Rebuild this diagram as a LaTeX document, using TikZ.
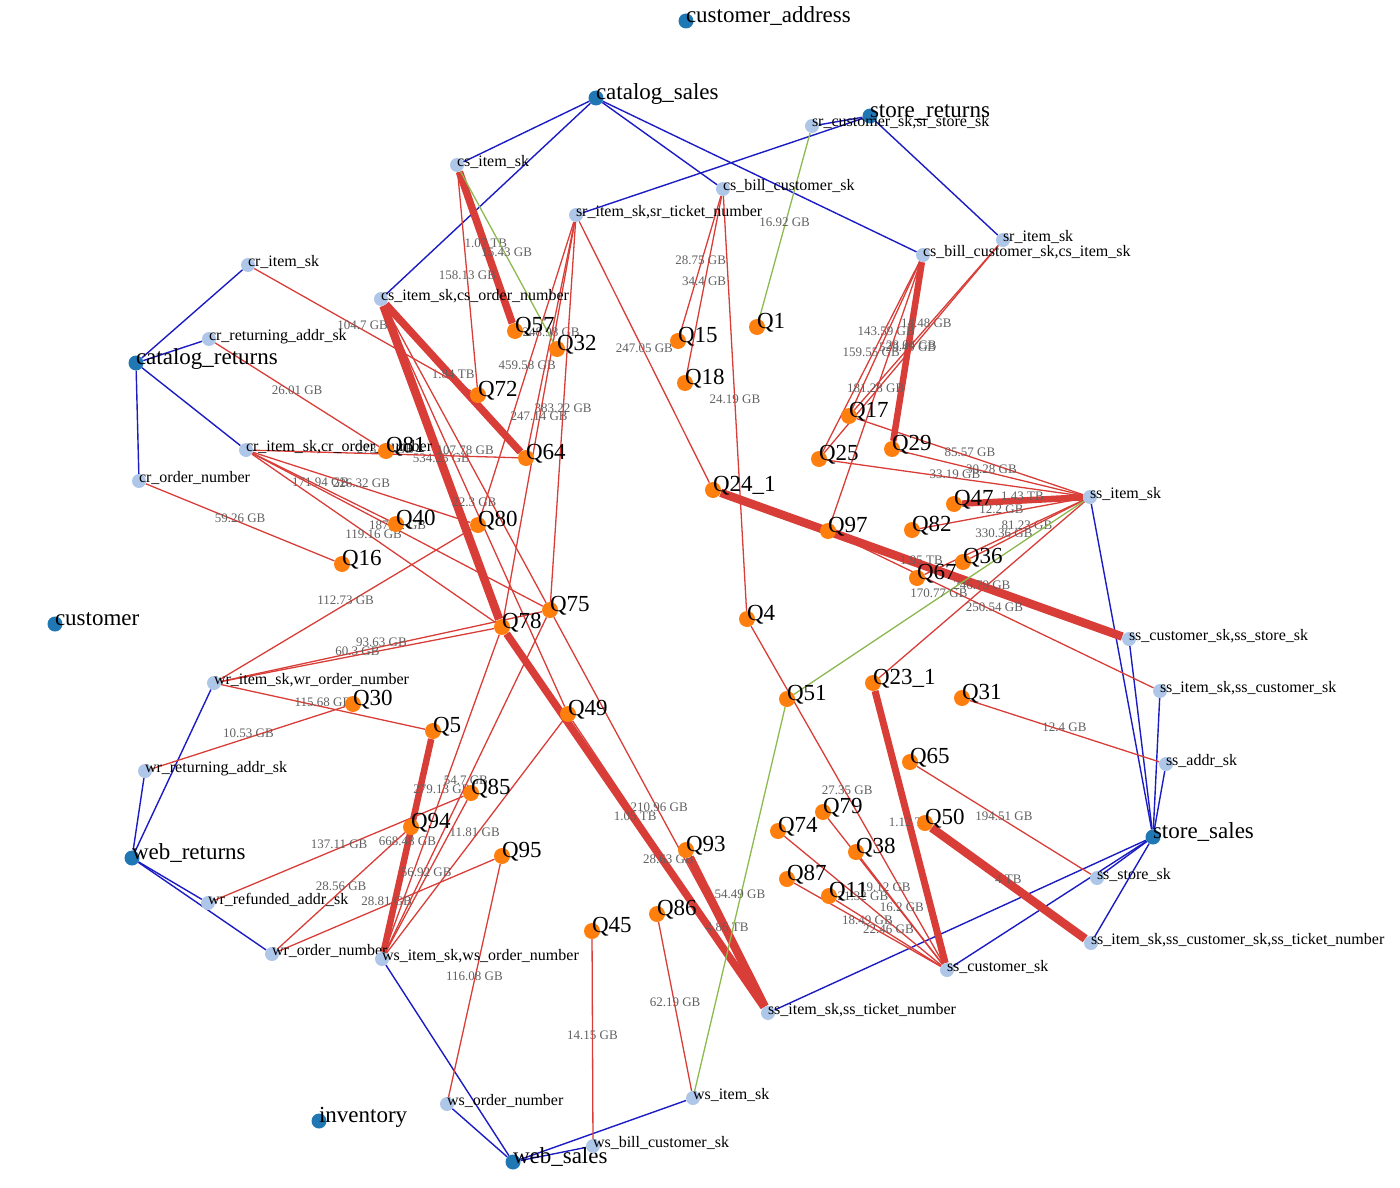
\documentclass[tikz,border=0pt]{standalone}
\usepackage{fontspec}
\setmainfont{Liberation Serif}
\usepackage{xcolor}
\usetikzlibrary{backgrounds}

\definecolor{tabblue}{HTML}{1F77B4}
\definecolor{attrblue}{HTML}{AEC7E8}
\definecolor{qorange}{HTML}{FF7F0E}
\definecolor{relblue}{HTML}{1C1CC4}
\definecolor{scanred}{HTML}{D93D38}
\definecolor{hintgreen}{HTML}{8DBA4E}

\begin{document}
\begin{tikzpicture}[
  x=1pt, y=-1pt,
  tbl/.style={circle, fill=tabblue, minimum size=15pt, inner sep=0pt},
  attr/.style={circle, fill=attrblue, minimum size=14pt, inner sep=0pt},
  qry/.style={circle, fill=qorange, minimum size=16pt, inner sep=0pt},
  % label text starts at the node centre, baseline near the centre
  tlab/.style={inner sep=0pt, yshift=3pt, font=\fontsize{23}{24}\selectfont,
    execute at begin node={\hbox to 0pt\bgroup\strut}, execute at end node={\hss\egroup}},
  alab/.style={inner sep=0pt, yshift=2.6pt, font=\fontsize{16}{18}\selectfont,
    execute at begin node={\hbox to 0pt\bgroup\strut}, execute at end node={\hss\egroup}},
  rel/.style={draw=relblue, line width=1.4pt},
  scan/.style={draw=scanred, line width=1.3pt},
  heavy/.style={draw=scanred, line width=7.5pt},
  hint/.style={draw=hintgreen, line width=1.3pt},
  elab/.style={anchor=base, inner sep=0pt, text=black!62, font=\fontsize{13}{13}\selectfont}
]
\useasboundingbox (0,0) rectangle (1400,1188);

% Tables
\node[tbl, label={[tlab]center:customer\_address}] (caddr) at (686,21) {};
\node[tbl, label={[tlab]center:catalog\_sales}] (csales) at (596,98) {};
\node[tbl, label={[tlab]center:store\_returns}] (sret) at (870,116) {};
\node[tbl, label={[tlab]center:catalog\_returns}] (cret) at (136,363) {};
\node[tbl, label={[tlab]center:customer}] (cust) at (55,624) {};
\node[tbl, label={[tlab]center:web\_returns}] (wret) at (132,858) {};
\node[tbl, label={[tlab]center:inventory}] (inv) at (319,1121) {};
\node[tbl, label={[tlab]center:web\_sales}] (wsales) at (513,1162) {};
\node[tbl, label={[tlab]center:store\_sales}] (ssales) at (1153,837) {};

% Columns
\node[attr, label={[alab]center:cs\_item\_sk}] (csitem) at (457,165) {};
\node[attr, label={[alab]center:cs\_bill\_customer\_sk}] (csbill) at (723,189) {};
\node[attr, label={[alab]center:sr\_customer\_sk,sr\_store\_sk}] (srcuststore) at (812,126) {};
\node[attr, label={[alab]center:sr\_item\_sk,sr\_ticket\_number}] (sritemtick) at (576,215) {};
\node[attr, label={[alab]center:sr\_item\_sk}] (sritem) at (1003,240) {};
\node[attr, label={[alab]center:cs\_bill\_customer\_sk,cs\_item\_sk}] (csbillitem) at (923,255) {};
\node[attr, label={[alab]center:cr\_item\_sk}] (critem) at (248,265) {};
\node[attr, label={[alab]center:cs\_item\_sk,cs\_order\_number}] (csitemord) at (381,299) {};
\node[attr, label={[alab]center:cr\_returning\_addr\_sk}] (craddr) at (209,339) {};
\node[attr, label={[alab]center:cr\_item\_sk,cr\_order\_number}] (critemord) at (246,450) {};
\node[attr, label={[alab]center:cr\_order\_number}] (crord) at (139,481) {};
\node[attr, label={[alab]center:ss\_item\_sk}] (ssitem) at (1090,497) {};
\node[attr, label={[alab]center:ss\_customer\_sk,ss\_store\_sk}] (sscuststore) at (1129,639) {};
\node[attr, label={[alab]center:ss\_item\_sk,ss\_customer\_sk}] (ssitemcust) at (1160,691) {};
\node[attr, label={[alab]center:ss\_addr\_sk}] (ssaddr) at (1166,764) {};
\node[attr, label={[alab]center:wr\_item\_sk,wr\_order\_number}] (writemord) at (214,683) {};
\node[attr, label={[alab]center:wr\_returning\_addr\_sk}] (wraddr) at (145,771) {};
\node[attr, label={[alab]center:wr\_refunded\_addr\_sk}] (wrref) at (208,903) {};
\node[attr, label={[alab]center:wr\_order\_number}] (wrord) at (272,954) {};
\node[attr, label={[alab]center:ws\_item\_sk,ws\_order\_number}] (wsitemord) at (382,959) {};
\node[attr, label={[alab]center:ss\_store\_sk}] (ssstore) at (1097,878) {};
\node[attr, label={[alab]center:ss\_item\_sk,ss\_customer\_sk,ss\_ticket\_number}] (ssitemcusttick) at (1091,943) {};
\node[attr, label={[alab]center:ss\_customer\_sk}] (sscust) at (947,970) {};
\node[attr, label={[alab]center:ss\_item\_sk,ss\_ticket\_number}] (ssitemtick) at (768,1013) {};
\node[attr, label={[alab]center:ws\_order\_number}] (wsord) at (447,1104) {};
\node[attr, label={[alab]center:ws\_item\_sk}] (wsitem) at (693,1098) {};
\node[attr, label={[alab]center:ws\_bill\_customer\_sk}] (wsbill) at (593,1146) {};

% Queries
\node[qry, label={[tlab]center:Q57}] (q57) at (515,331) {};
\node[qry, label={[tlab]center:Q32}] (q32) at (557,349) {};
\node[qry, label={[tlab]center:Q15}] (q15) at (678,341) {};
\node[qry, label={[tlab]center:Q1}] (q1) at (757,327) {};
\node[qry, label={[tlab]center:Q18}] (q18) at (685,383) {};
\node[qry, label={[tlab]center:Q72}] (q72) at (478,395) {};
\node[qry, label={[tlab]center:Q64}] (q64) at (526,458) {};
\node[qry, label={[tlab]center:Q81}] (q81) at (386,451) {};
\node[qry, label={[tlab]center:Q17}] (q17) at (849,416) {};
\node[qry, label={[tlab]center:Q29}] (q29) at (892,449) {};
\node[qry, label={[tlab]center:Q25}] (q25) at (819,459) {};
\node[qry, label={[tlab]center:Q24\_1}] (q241) at (713,490) {};
\node[qry, label={[tlab]center:Q47}] (q47) at (954,504) {};
\node[qry, label={[tlab]center:Q97}] (q97) at (828,531) {};
\node[qry, label={[tlab]center:Q82}] (q82) at (912,530) {};
\node[qry, label={[tlab]center:Q40}] (q40) at (396,524) {};
\node[qry, label={[tlab]center:Q80}] (q80) at (478,525) {};
\node[qry, label={[tlab]center:Q16}] (q16) at (342,564) {};
\node[qry, label={[tlab]center:Q36}] (q36) at (963,562) {};
\node[qry, label={[tlab]center:Q67}] (q67) at (917,578) {};
\node[qry, label={[tlab]center:Q75}] (q75) at (550,610) {};
\node[qry, label={[tlab]center:Q78}] (q78) at (502,627) {};
\node[qry, label={[tlab]center:Q4}] (q4) at (747,619) {};
\node[qry, label={[tlab]center:Q51}] (q51) at (787,699) {};
\node[qry, label={[tlab]center:Q23\_1}] (q231) at (873,683) {};
\node[qry, label={[tlab]center:Q31}] (q31) at (962,698) {};
\node[qry, label={[tlab]center:Q30}] (q30) at (353,704) {};
\node[qry, label={[tlab]center:Q5}] (q5) at (433,731) {};
\node[qry, label={[tlab]center:Q49}] (q49) at (568,714) {};
\node[qry, label={[tlab]center:Q65}] (q65) at (910,762) {};
\node[qry, label={[tlab]center:Q85}] (q85) at (471,793) {};
\node[qry, label={[tlab]center:Q79}] (q79) at (823,812) {};
\node[qry, label={[tlab]center:Q74}] (q74) at (778,831) {};
\node[qry, label={[tlab]center:Q94}] (q94) at (411,827) {};
\node[qry, label={[tlab]center:Q50}] (q50) at (925,823) {};
\node[qry, label={[tlab]center:Q38}] (q38) at (856,852) {};
\node[qry, label={[tlab]center:Q93}] (q93) at (686,850) {};
\node[qry, label={[tlab]center:Q95}] (q95) at (502,856) {};
\node[qry, label={[tlab]center:Q87}] (q87) at (787,879) {};
\node[qry, label={[tlab]center:Q11}] (q11) at (829,896) {};
\node[qry, label={[tlab]center:Q86}] (q86) at (657,914) {};
\node[qry, label={[tlab]center:Q45}] (q45) at (592,931) {};

\begin{scope}[on background layer]
% Table to column links
\draw[rel] (csales) -- (csitem);
\draw[rel] (csales) -- (csitemord);
\draw[rel] (csales) -- (csbill);
\draw[rel] (csales) -- (csbillitem);
\draw[rel] (sret) -- (srcuststore);
\draw[rel] (sret) -- (sritemtick);
\draw[rel] (sret) -- (sritem);
\draw[rel] (cret) -- (critem);
\draw[rel] (cret) -- (craddr);
\draw[rel] (cret) -- (critemord);
\draw[rel] (cret) -- (crord);
\draw[rel] (wret) -- (writemord);
\draw[rel] (wret) -- (wraddr);
\draw[rel] (wret) -- (wrref);
\draw[rel] (wret) -- (wrord);
\draw[rel] (wsales) -- (wsitemord);
\draw[rel] (wsales) -- (wsord);
\draw[rel] (wsales) -- (wsitem);
\draw[rel] (wsales) -- (wsbill);
\draw[rel] (ssales) -- (ssitem);
\draw[rel] (ssales) -- (sscuststore);
\draw[rel] (ssales) -- (ssitemcust);
\draw[rel] (ssales) -- (ssaddr);
\draw[rel] (ssales) -- (ssstore);
\draw[rel] (ssales) -- (ssitemcusttick);
\draw[rel] (ssales) -- (sscust);
\draw[rel] (ssales) -- (ssitemtick);

% Heavy scans
\draw[heavy] (csitem) -- node[elab] {1.07 TB} (q57);
\draw[heavy] (csitemord) -- node[elab] {1.84 TB} (q64);
\draw[heavy, line width=8.5pt] (csitemord) -- node[elab] {534.25 GB} (q78);
\draw[heavy, line width=6.5pt] (csbillitem) -- node[elab] {529.49 GB} (q29);
\draw[heavy, line width=6.5pt] (ssitem) -- node[elab] {1.43 TB} (q47);
\draw[heavy, line width=8.5pt] (q241) -- node[elab] {1.95 TB} (sscuststore);
\draw[heavy, line width=7pt] (q231) -- node[elab] {1.12 TB} (sscust);
\draw[heavy, line width=8.5pt] (q50) -- node[elab] {4 TB} (ssitemcusttick);
\draw[heavy] (q78) -- node[elab] {1.05 TB} (ssitemtick);
\draw[heavy, line width=8.5pt] (q93) -- node[elab] {4.86 TB} (ssitemtick);
\draw[heavy, line width=6.5pt] (q5) -- node[elab] {668.48 GB} (wsitemord);

% Scans
\draw[scan] (csitem) -- node[elab] {158.13 GB} (q72);
\draw[scan] (critem) -- node[elab] {104.7 GB} (q72);
\draw[scan] (sritemtick) -- node[elab] {248.98 GB} (q64);
\draw[scan] (sritemtick) -- node[elab] {459.58 GB} (q80);
\draw[scan] (sritemtick) -- node[elab] {383.22 GB} (q75);
\draw[scan] (sritemtick) -- node[elab] {247.14 GB} (q78);
\draw[scan] (sritemtick) -- node[elab] {247.05 GB} (q241);
\draw[scan] (craddr) -- node[elab] {26.01 GB} (q81);
\draw[scan] (csbill) -- node[elab] {28.75 GB} (q15);
\draw[scan] (csbill) -- node[elab] {34.4 GB} (q18);
\draw[scan] (csbill) -- node[elab] {24.19 GB} (q4);
\draw[scan] (csbillitem) -- node[elab] {143.59 GB} (q17);
\draw[scan] (sritem) -- node[elab] {14.48 GB} (q17);
\draw[scan] (sritem) -- node[elab] {28.04 GB} (q25);
\draw[scan] (csbillitem) -- node[elab] {159.55 GB} (q25);
\draw[scan] (csbillitem) -- node[elab] {181.28 GB} (q97);
\draw[scan] (ssitem) -- node[elab] {85.57 GB} (q17);
\draw[scan] (ssitem) -- node[elab] {30.28 GB} (q29);
\draw[scan] (ssitem) -- node[elab] {33.19 GB} (q25);
\draw[scan] (ssitem) -- node[elab] {12.2 GB} (q82);
\draw[scan] (ssitem) -- node[elab] {81.23 GB} (q36);
\draw[scan] (ssitem) -- node[elab] {330.36 GB} (q67);
\draw[scan] (ssitem) -- node[elab] {246.79 GB} (q231);
\draw[scan] (q97) -- node[elab] {250.54 GB} (ssitemcust);
\draw[scan] (q31) -- node[elab] {12.4 GB} (ssaddr);
\draw[scan] (q65) -- node[elab] {194.51 GB} (ssstore);
\draw[scan] (q4) -- node[elab] {27.35 GB} (sscust);
\draw[scan] (q79) -- node[elab] {19.12 GB} (sscust);
\draw[scan] (q74) -- node[elab] {21.32 GB} (sscust);
\draw[scan] (q38) -- node[elab] {16.2 GB} (sscust);
\draw[scan] (q87) -- node[elab] {18.49 GB} (sscust);
\draw[scan] (q11) -- node[elab] {22.46 GB} (sscust);
\draw[scan] (q75) -- node[elab] {210.96 GB} (ssitemtick);
\draw[scan] (q49) -- node[elab] {28.63 GB} (ssitemtick);
\draw[scan] (q86) -- node[elab] {62.19 GB} (wsitem);
\draw[scan] (q45) -- node[elab] {14.15 GB} (wsbill);
\draw[scan] (q95) -- node[elab] {116.08 GB} (wsord);
\draw[scan] (crord) -- node[elab] {59.26 GB} (q16);
\draw[scan] (critemord) -- node[elab] {171.94 GB} (q40);
\draw[scan] (critemord) -- node[elab] {226.32 GB} (q80);
\draw[scan] (critemord) -- node[elab] {187.12 GB} (q75);
\draw[scan] (critemord) -- node[elab] {119.16 GB} (q78);
\draw[scan] (critemord) -- node[elab] {273.94 GB} (q64);
\draw[scan] (csitemord) -- node[elab] {22.3 GB} (q49);
\draw[scan] (csitemord) -- node[elab] {107.78 GB} (q75);
\draw[scan] (writemord) -- node[elab] {112.73 GB} (q80);
\draw[scan] (writemord) -- node[elab] {93.63 GB} (q75);
\draw[scan] (writemord) -- node[elab] {60.3 GB} (q78);
\draw[scan] (writemord) -- node[elab] {115.68 GB} (q5);
\draw[scan] (wraddr) -- node[elab] {10.53 GB} (q30);
\draw[scan] (wsitemord) -- node[elab] {279.13 GB} (q78);
\draw[scan] (wsitemord) -- node[elab] {54.7 GB} (q75);
\draw[scan] (wrref) -- node[elab] {137.11 GB} (q85);
\draw[scan] (wsitemord) -- node[elab] {11.81 GB} (q49);
\draw[scan] (wsitemord) -- node[elab] {56.92 GB} (q85);
\draw[scan] (wrord) -- node[elab] {28.56 GB} (q94);
\draw[scan] (wrord) -- node[elab] {28.81 GB} (q95);

% Index hints
\draw[hint] (csitem) -- node[elab] {15.43 GB} (q32);
\draw[hint] (srcuststore) -- node[elab] {16.92 GB} (q1);
\draw[hint] (ssitem) -- node[elab] {170.77 GB} (q51);
\draw[hint] (q51) -- node[elab] {54.49 GB} (wsitem);
\end{scope}

\end{tikzpicture}
\end{document}
